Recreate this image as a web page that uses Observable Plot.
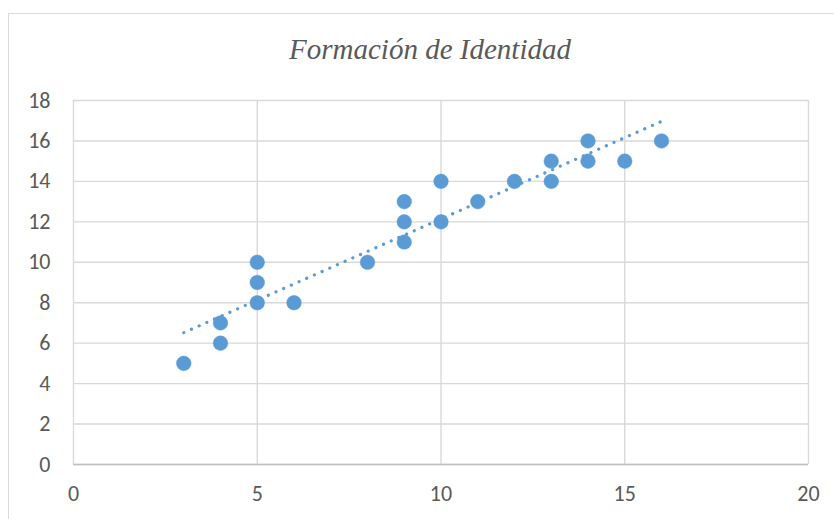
<!DOCTYPE html>
<html>
<head>
<meta charset="utf-8">
<script src="https://cdn.jsdelivr.net/npm/d3@7"></script>
<script src="https://cdn.jsdelivr.net/npm/@observablehq/plot@0.6"></script>
<style>
  html, body { margin: 0; padding: 0; background: #fff; overflow: hidden; }
  #wrap { position: relative; width: 834px; height: 519px; overflow: hidden; }
  #border { position: absolute; left: 8px; top: 13px; width: 900px; height: 600px; border: 1px solid #d9d9d9; box-sizing: border-box; }
  #chart { position: absolute; left: 0; top: 0; }
  #title { position: absolute; left: 0; top: 0; }
</style>
</head>
<body>
<div id="wrap"><div id="border"></div><div id="chart"></div>
<svg id="title" width="834" height="80"><text id="titleText" x="430" y="59" text-anchor="middle" style="font-family:'Liberation Serif';font-style:italic;font-size:29px;fill:#595959"></text></svg>
</div>
<script>
const title = "Formación de Identidad";
const xValues = [3, 4, 4, 5, 5, 5, 6, 8, 9, 9, 9, 10, 10, 11, 12, 13, 13, 14, 14, 15, 16];
const yValues = [5, 7, 6, 10, 9, 8, 8, 10, 13, 12, 11, 14, 12, 13, 14, 15, 14, 16, 15, 15, 16];
const xTicks = [0, 5, 10, 15, 20];
const yTicks = [0, 2, 4, 6, 8, 10, 12, 14, 16, 18];

const data = xValues.map((x, i) => ({x, y: yValues[i]}));
const blue = "#5B9BD5";
const grid = "#d9d9d9";
const tickFont = 22;

document.getElementById("titleText").textContent = title;

const chart = Plot.plot({
  width: 834,
  height: 519,
  marginLeft: 73,
  marginRight: 26,
  marginTop: 100,
  marginBottom: 55,
  style: {fontFamily: "Carlito", fontSize: tickFont + "px", color: "#595959", background: "transparent"},
  x: {domain: [0, 20], ticks: xTicks, tickSize: 0, tickPadding: 21, label: null},
  y: {domain: [0, 18], ticks: yTicks, tickSize: 0, tickPadding: 23, label: null},
  marks: [
    Plot.gridX(xTicks, {stroke: grid, strokeOpacity: 1, strokeWidth: 1.4}),
    Plot.gridY(yTicks, {stroke: grid, strokeOpacity: 1, strokeWidth: 1.4}),
    Plot.ruleY([0], {stroke: "#bfbfbf", strokeWidth: 1.4}),
    Plot.axisX({ticks: xTicks, tickSize: 0, tickPadding: 21, fill: "#595959", fontSize: tickFont}),
    Plot.axisY({ticks: yTicks, tickSize: 0, tickPadding: 23, fill: "#595959", fontSize: tickFont}),
    Plot.dot(data, {x: "x", y: "y", r: 7.3, fill: blue, stroke: blue, strokeWidth: 0.5}),
    Plot.linearRegressionY(data, {x: "x", y: "y", ci: 0, stroke: blue, strokeWidth: 3.2, strokeDasharray: "0.1 8.3", strokeLinecap: "round"})
  ]
});
document.getElementById("chart").appendChild(chart);
</script>
</body>
</html>
